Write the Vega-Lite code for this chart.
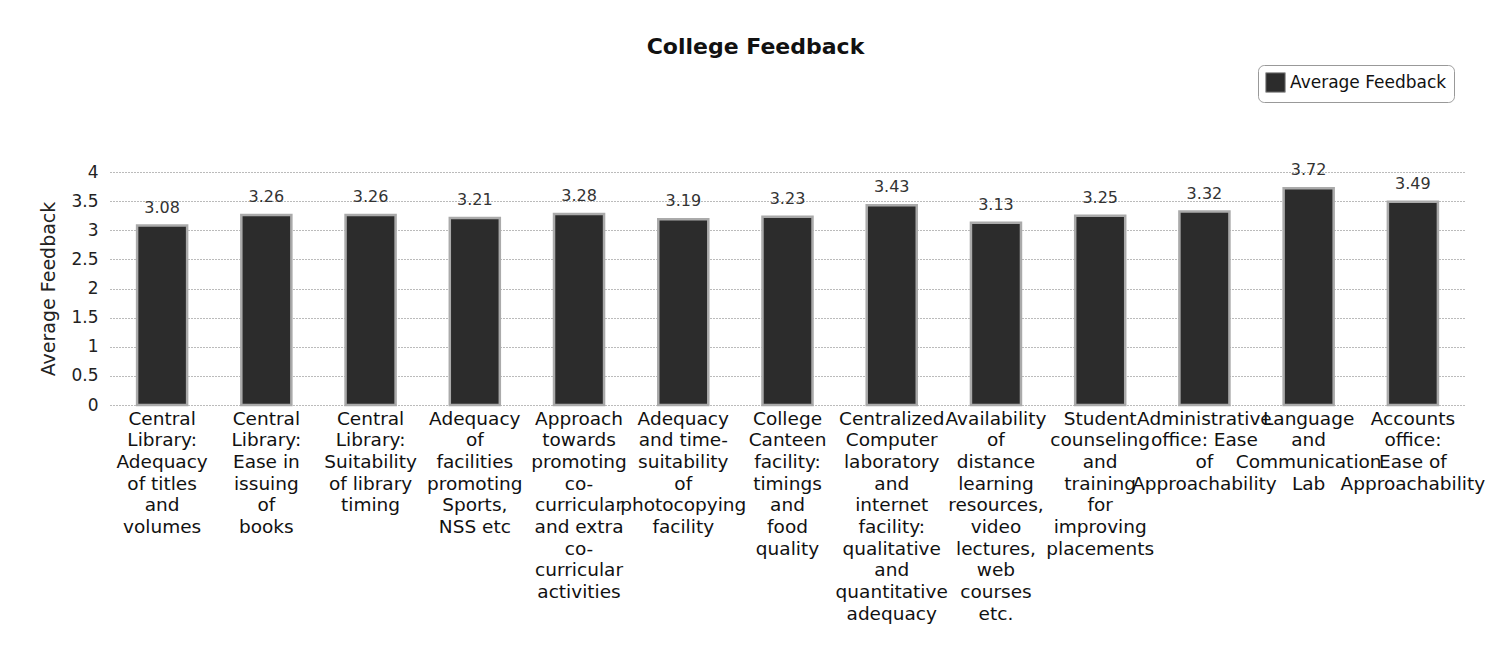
{
  "$schema": "https://vega.github.io/schema/vega-lite/v6.json",
  "autosize": {"type": "none"},
  "padding": {"left": 110, "top": 172, "right": 28, "bottom": 256},
  "width": 1355,
  "height": 233,
  "background": "white",
  "title": {
    "text": "College Feedback",
    "font": "DejaVu Sans",
    "fontSize": 22,
    "fontWeight": "bold",
    "color": "#111",
    "anchor": "middle",
    "dx": -32,
    "offset": 6
  },
  "data": {
    "values": [
      {"item": "Central|Library:|Adequacy|of titles|and|volumes", "value": 3.08},
      {"item": "Central|Library:|Ease in|issuing|of|books", "value": 3.26},
      {"item": "Central|Library:|Suitability|of library|timing", "value": 3.26},
      {"item": "Adequacy|of|facilities|promoting|Sports,|NSS etc", "value": 3.21},
      {"item": "Approach|towards|promoting|co-|curricular|and extra|co-|curricular|activities", "value": 3.28},
      {"item": "Adequacy|and time-|suitability|of|photocopying|facility", "value": 3.19},
      {"item": "College|Canteen|facility:|timings|and|food|quality", "value": 3.23},
      {"item": "Centralized|Computer|laboratory|and|internet|facility:|qualitative|and|quantitative|adequacy", "value": 3.43},
      {"item": "Availability|of|distance|learning|resources,|video|lectures,|web|courses|etc.", "value": 3.13},
      {"item": "Student|counseling|and|training|for|improving|placements", "value": 3.25},
      {"item": "Administrative|office: Ease|of|Approachability", "value": 3.32},
      {"item": "Language|and|Communication|Lab", "value": 3.72},
      {"item": "Accounts|office:|Ease of|Approachability", "value": 3.49}
    ]
  },
  "encoding": {
    "x": {
      "field": "item",
      "type": "nominal",
      "sort": null,
      "scale": {"paddingInner": 0.52, "paddingOuter": 0.26},
      "axis": {
        "title": null,
        "labelAngle": 0,
        "labelExpr": "split(datum.label, '|')",
        "labelFont": "DejaVu Sans",
        "labelFontSize": 18.5,
        "labelLineHeight": 21.7,
        "labelColor": "#111",
        "labelBaseline": "top",
        "labelPadding": 4,
        "labelOverlap": false,
        "labelLimit": 0,
        "labelBound": false,
        "ticks": false,
        "domain": false
      }
    },
    "y": {
      "field": "value",
      "type": "quantitative",
      "scale": {"domain": [0, 4]},
      "axis": {
        "title": "Average Feedback",
        "titleFont": "DejaVu Sans",
        "titleFontSize": 19,
        "titleFontWeight": "normal",
        "titleColor": "#222",
        "titlePadding": 12,
        "values": [0, 0.5, 1, 1.5, 2, 2.5, 3, 3.5, 4],
        "format": "~g",
        "labelFont": "DejaVu Sans",
        "labelFontSize": 17,
        "labelColor": "#222",
        "labelPadding": 12,
        "ticks": false,
        "domain": false,
        "grid": true,
        "gridColor": "#777",
        "gridDash": [1, 2],
        "gridWidth": 1
      }
    }
  },
  "layer": [
    {
      "mark": {"type": "bar", "stroke": "#aaa", "strokeWidth": 2.5},
      "encoding": {
        "color": {
          "datum": "Average Feedback",
          "scale": {"range": ["#2c2c2c"]},
          "legend": {
            "title": null,
            "orient": "none",
            "legendX": 1148,
            "legendY": -107,
            "labelFont": "DejaVu Sans",
            "labelFontSize": 17,
            "labelLimit": 0,
            "labelColor": "#111",
            "symbolType": "square",
            "symbolSize": 380,
            "symbolStrokeColor": "#999",
            "symbolStrokeWidth": 1,
            "strokeColor": "#999",
            "cornerRadius": 6,
            "padding": 7
          }
        }
      }
    },
    {
      "mark": {"type": "text", "baseline": "bottom", "dy": -10, "font": "DejaVu Sans", "fontSize": 16, "color": "#333"},
      "encoding": {
        "text": {"field": "value", "type": "quantitative", "format": ".2f"}
      }
    }
  ],
  "config": {
    "view": {"stroke": null}
  }
}
